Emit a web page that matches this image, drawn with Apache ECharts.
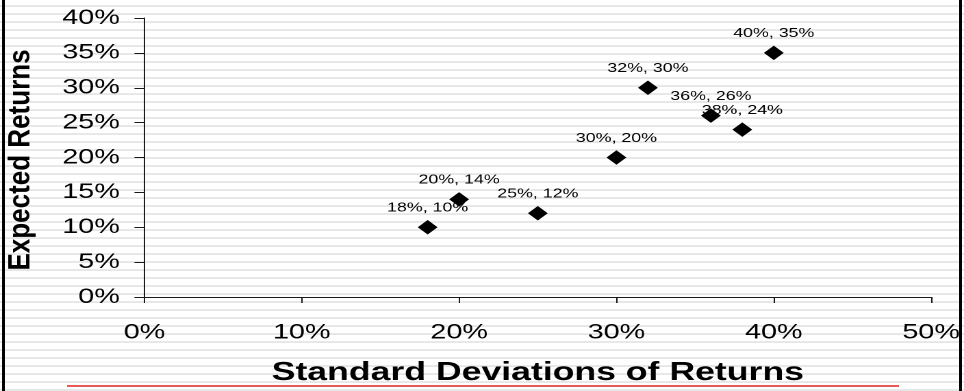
<!DOCTYPE html>
<html>
<head>
<meta charset="utf-8">
<title>Expected Returns vs Standard Deviations</title>
<script src="https://cdn.jsdelivr.net/npm/echarts@6/dist/echarts.min.js"></script>
<style>
  html, body {
    margin: 0;
    padding: 0;
    width: 964px;
    height: 391px;
    overflow: hidden;
    background: repeating-linear-gradient(to bottom,
      #ffffff 0px, #ffffff 5px,
      #efefef 5px, #e2e2e2 6px, #ebebeb 7px,
      #ffffff 7.5px, #ffffff 8px);
  }
  /* the plot is laid out narrow and widened, as the chart sheet was */
  #chart {
    position: absolute;
    left: 0;
    top: 0;
    width: 704px;
    height: 391px;
    transform: scaleX(1.36932);
    transform-origin: 0 0;
  }
  .edge {
    position: absolute;
    top: 0;
    width: 3px;
    height: 391px;
    background: #000;
    z-index: 2;
  }
  #underline {
    position: absolute;
    left: 67px;
    top: 385px;
    width: 832px;
    height: 0;
    border-top: 2px solid #e65a5a;
    z-index: 3;
  }
</style>
</head>
<body>
<div id="chart"></div>
<div class="edge" style="left:2px"></div>
<div class="edge" style="left:959px"></div>
<div id="underline"></div>
<script>
// Portfolio risk / return pairs, in percent
const stdDevs = [18, 20, 25, 30, 32, 36, 38, 40];
const expectedReturns = [10, 14, 12, 20, 30, 26, 24, 35];

// Axis ranges and tick steps, in percent
const xTicks = { min: 0, max: 50, step: 10 };
const yTicks = { min: 0, max: 40, step: 5 };

const xTitle = 'Standard Deviations of Returns';
const yTitle = 'Expected Returns';

const points = stdDevs.map((sd, i) => [sd, expectedReturns[i]]);

const font = 'Liberation Sans';
const axisColor = '#1a1a1a';

const chart = echarts.init(document.getElementById('chart'), null, { devicePixelRatio: 2 });

chart.setOption({
  animation: false,
  grid: { left: 105.5, right: 22.6, top: 18, bottom: 93.3 },
  xAxis: {
    type: 'value',
    min: xTicks.min,
    max: xTicks.max,
    interval: xTicks.step,
    name: xTitle,
    nameLocation: 'middle',
    nameGap: 63,
    nameTextStyle: { fontFamily: font, fontSize: 26, fontWeight: 'bold', color: '#000' },
    axisLine: { show: true, onZero: false, lineStyle: { color: axisColor, width: 1 } },
    axisTick: { show: true, length: 6, lineStyle: { color: axisColor } },
    axisLabel: { formatter: '{value}%', fontFamily: font, fontSize: 21, color: '#000', margin: 25 },
    splitLine: { show: false }
  },
  yAxis: {
    type: 'value',
    min: yTicks.min,
    max: yTicks.max,
    interval: yTicks.step,
    axisLine: { show: true, onZero: false, lineStyle: { color: axisColor, width: 1 } },
    axisTick: { show: true, length: 7.3, lineStyle: { color: axisColor } },
    axisLabel: { formatter: '{value}%', fontFamily: font, fontSize: 21, color: '#000', margin: 18 },
    splitLine: { show: false }
  },
  graphic: [{
    type: 'text',
    x: 15.3,
    y: 160,
    rotation: Math.PI / 2,
    scaleY: 0.84,
    style: {
      text: yTitle,
      fontFamily: font,
      fontSize: 26,
      fontWeight: 'bold',
      fill: '#000',
      align: 'center',
      verticalAlign: 'middle',
      textAlign: 'center',
      textVerticalAlign: 'middle'
    }
  }],
  series: [{
    type: 'scatter',
    data: points,
    symbol: 'diamond',
    symbolSize: 14.5,
    itemStyle: { color: '#000', opacity: 1 },
    label: {
      show: true,
      position: 'top',
      distance: 5.5,
      fontFamily: font,
      fontSize: 13,
      color: '#000',
      formatter: p => p.value[0] + '%, ' + p.value[1] + '%'
    }
  }]
});
</script>
</body>
</html>
